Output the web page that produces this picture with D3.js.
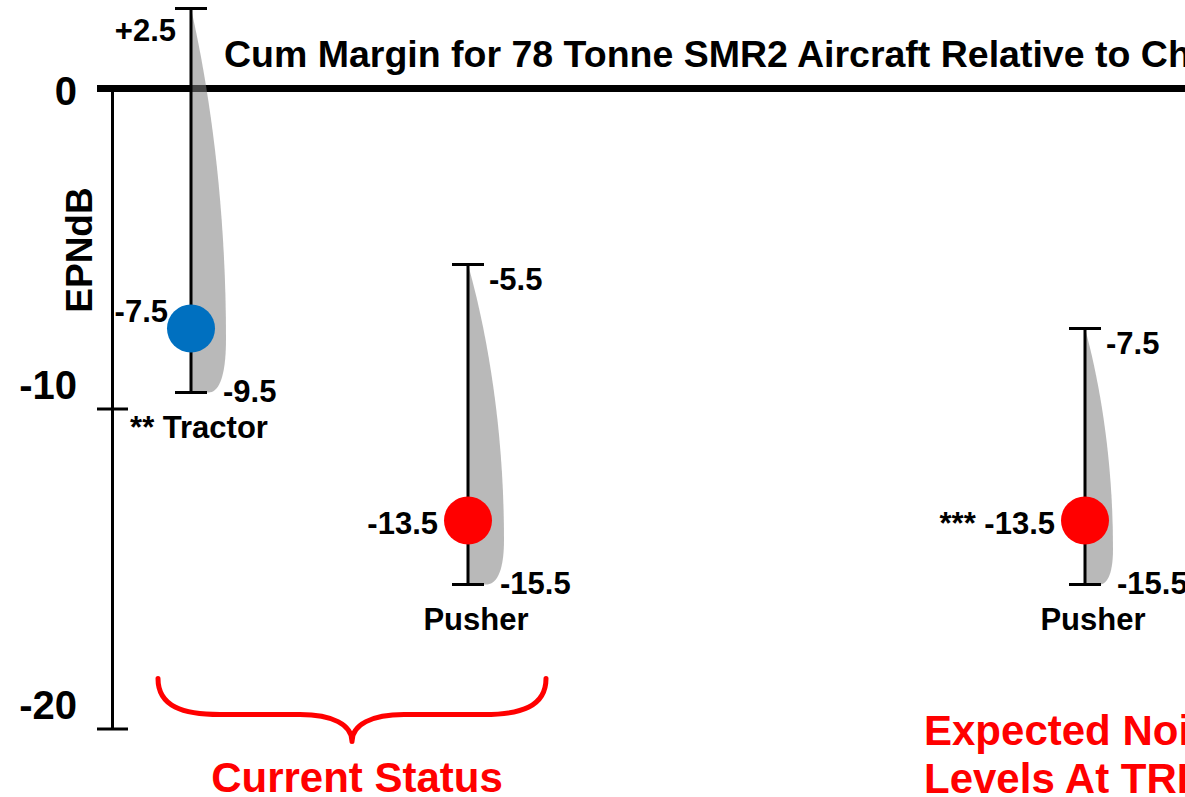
<!DOCTYPE html>
<html><head><meta charset="utf-8">
<script src="https://cdn.jsdelivr.net/npm/d3@7"></script>
<style>
html,body{margin:0;padding:0;background:#fff;overflow:hidden}
svg{display:block}
text{font-family:"Liberation Sans",Arial,Helvetica,sans-serif;font-weight:bold}
</style></head><body>
<svg id="chart" width="1185" height="797"></svg>
<script>
// ---- data ----
const categoryKeys = ["current-tractor", "current-pusher", "expected-pusher"];
const categories = ["Tractor", "Pusher", "Pusher"];
const categoryNotes = ["**", "", ""];
const nominal = [-7.5, -13.5, -13.5];
const upper = [2.5, -5.5, -7.5];
const lower = [-9.5, -15.5, -15.5];
const nominalNotes = ["", "", "***"];
const yTicks = [0, -10, -20];
const title = "Cum Margin for 78 Tonne SMR2 Aircraft Relative to Chapter 14";
const yTitle = "EPNdB";
const groupLabel = "Current Status";
const expectedLabel = ["Expected Noise", "Levels At TRL 6"];

// ---- style ----
const W = 1185, H = 797;
const dotColors = ["#0070C0", "#FF0000", "#FF0000"];
const dropWidth = [35, 36, 28];
const fmt = v => (v > 0 ? "+" : "") + String(v);

const svg = d3.select("#chart");
const y = d3.scaleLinear().domain([0, -20]).range([88.5, 728.5]);
const x = d3.scaleOrdinal().domain(categoryKeys).range([191, 468, 1085]);
const axisX = 112;

// zero reference line
svg.append("line")
  .attr("x1", 97).attr("x2", W)
  .attr("y1", y(0)).attr("y2", y(0))
  .attr("stroke", "#000").attr("stroke-width", 7);

// title
svg.append("text").attr("x", 224).attr("y", 67)
  .attr("font-size", 37.5).attr("fill", "#000").text(title);

// y axis
const axisG = svg.append("g").attr("transform", `translate(${axisX},0)`)
  .call(d3.axisLeft(y).tickValues(yTicks).tickSize(0).tickSizeOuter(0).tickFormat(d => String(d)));
axisG.select(".domain").attr("stroke", "#000").attr("stroke-width", 3);
axisG.selectAll(".tick line").remove();
axisG.selectAll(".tick").filter(d => d !== 0).append("line")
  .attr("x1", -15).attr("x2", 16).attr("stroke", "#000").attr("stroke-width", 3);
axisG.selectAll(".tick text")
  .attr("x", -35)
  .attr("dy", null)
  .attr("y", d => d === 0 ? 16 : -10)
  .attr("font-size", 40)
  .attr("font-family", '"Liberation Sans",Arial,sans-serif')
  .attr("font-weight", "bold")
  .attr("fill", "#000")
  .attr("text-anchor", "end");

// y title
svg.append("text")
  .attr("transform", `translate(92,250) rotate(-90)`)
  .attr("text-anchor", "middle").attr("font-size", 37).text(yTitle);

const items = categoryKeys.map((k, i) => ({
  key: k, i, label: categories[i], note: categoryNotes[i],
  nom: nominal[i], up: upper[i], lo: lower[i], nnote: nominalNotes[i]
}));

// gray distribution drops
svg.append("g").selectAll("path").data(items).join("path")
  .attr("d", d => {
    const bx = x(d.key), yt = y(d.up), yb = y(d.lo), h = yb - yt, w = dropWidth[d.i];
    const p = d3.path();
    p.moveTo(bx, yt);
    p.bezierCurveTo(bx + 0.5 * w, yt + 0.2 * h, bx + w, yt + 0.5 * h, bx + w, yt + 0.86 * h);
    p.bezierCurveTo(bx + w, yt + 0.97 * h, bx + 0.75 * w, yb, bx + 0.5 * w, yb);
    p.lineTo(bx, yb);
    p.closePath();
    return p.toString();
  })
  .attr("fill", "#808080").attr("fill-opacity", 0.55);

// error bars
const bars = svg.append("g").selectAll("g").data(items).join("g");
bars.append("line")
  .attr("x1", d => x(d.key)).attr("x2", d => x(d.key))
  .attr("y1", d => y(d.up)).attr("y2", d => y(d.lo))
  .attr("stroke", "#000").attr("stroke-width", 3);
bars.append("line")
  .attr("x1", d => x(d.key) - 16).attr("x2", d => x(d.key) + 16)
  .attr("y1", d => y(d.up)).attr("y2", d => y(d.up))
  .attr("stroke", "#000").attr("stroke-width", 3);
bars.append("line")
  .attr("x1", d => x(d.key) - 16).attr("x2", d => x(d.key) + 16)
  .attr("y1", d => y(d.lo)).attr("y2", d => y(d.lo))
  .attr("stroke", "#000").attr("stroke-width", 3);

// dots
svg.append("g").selectAll("circle").data(items).join("circle")
  .attr("cx", d => x(d.key)).attr("cy", d => y(d.nom)).attr("r", 24)
  .attr("fill", d => dotColors[d.i]);

// value labels
const lab = svg.append("g").attr("font-size", 31).attr("fill", "#000");
lab.selectAll(".up").data(items).join("text").attr("class", "up")
  .attr("text-anchor", d => d.i === 0 ? "end" : "start")
  .attr("x", d => d.i === 0 ? x(d.key) - 15 : x(d.key) + 21)
  .attr("y", d => d.i === 0 ? y(d.up) + 32 : y(d.up) + 25)
  .text(d => fmt(d.up));
lab.selectAll(".nom").data(items).join("text").attr("class", "nom")
  .attr("text-anchor", "end")
  .attr("x", d => d.i === 0 ? x(d.key) - 23 : x(d.key) - 30)
  .attr("y", d => d.i === 0 ? y(d.nom) - 7 : y(d.nom) + 13)
  .text(d => (d.nnote ? d.nnote + " " : "") + fmt(d.nom));
lab.selectAll(".lo").data(items).join("text").attr("class", "lo")
  .attr("x", d => x(d.key) + 32)
  .attr("y", d => y(d.lo) + 9)
  .text(d => fmt(d.lo));
lab.selectAll(".cat").data(items).join("text").attr("class", "cat")
  .attr("text-anchor", "middle")
  .attr("x", d => x(d.key) + 8)
  .attr("y", d => y(d.lo) + 45)
  .text(d => (d.note ? d.note + " " : "") + d.label);

// brace for current status
const bx0 = x(categoryKeys[0]) - 33, bx1 = x(categoryKeys[1]) + 78;
const mid = (bx0 + bx1) / 2;
const yTop = y(-20) - 50, yH = y(-20) - 14, yTip = y(-20) + 13;
const bp = d3.path();
bp.moveTo(bx0, yTop);
bp.bezierCurveTo(bx0, yTop + 28, bx0 + 25, yH, bx0 + 62, yH);
bp.lineTo(mid - 52, yH);
bp.bezierCurveTo(mid - 20, yH, mid, yH + 10, mid, yTip);
bp.moveTo(bx1, yTop);
bp.bezierCurveTo(bx1, yTop + 28, bx1 - 25, yH, bx1 - 62, yH);
bp.lineTo(mid + 52, yH);
bp.bezierCurveTo(mid + 20, yH, mid, yH + 10, mid, yTip);
svg.append("path").attr("d", bp.toString())
  .attr("fill", "none").attr("stroke", "#FF0000").attr("stroke-width", 5)
  .attr("stroke-linecap", "round").attr("stroke-linejoin", "round");

svg.append("text").attr("x", mid + 5).attr("y", 792)
  .attr("text-anchor", "middle").attr("font-size", 42).attr("fill", "#FF0000")
  .text(groupLabel);

svg.append("g").selectAll("text").data(expectedLabel).join("text")
  .attr("x", 924).attr("y", (d, i) => 745 + i * 48)
  .attr("font-size", 42).attr("fill", "#FF0000").text(d => d);
</script>
</body></html>
